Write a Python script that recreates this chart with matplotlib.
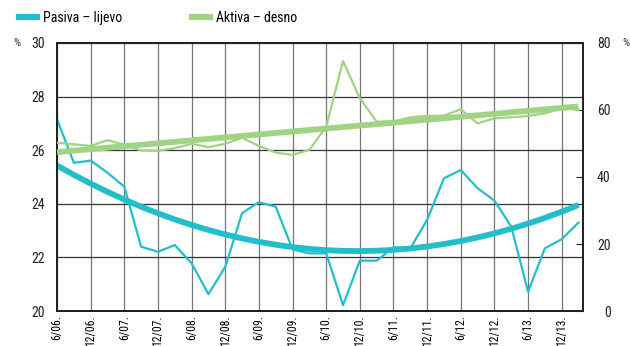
import numpy as np
import matplotlib
matplotlib.use('Agg')
import matplotlib.pyplot as plt
from matplotlib import font_manager
from matplotlib.lines import Line2D

# quarterly observations, 6/06 .. 3/14
pasiva = [27.15, 25.53, 25.61, 25.16, 24.64, 22.40, 22.21, 22.46, 21.78, 20.63,
          21.65, 23.65, 24.06, 23.89, 22.30, 22.15, 22.15, 20.22, 21.88, 21.88,
          22.38, 22.34, 23.40, 24.95, 25.26, 24.58, 24.12, 23.15, 20.72, 22.34,
          22.68, 23.30]
aktiva = [50.2, 49.75, 49.25, 51.0, 49.6, 47.9, 47.8, 48.6, 49.9, 48.9,
          49.9, 51.7, 49.25, 47.3, 46.6, 48.1, 55.0, 74.6, 63.5, 56.5,
          56.5, 57.8, 58.2, 58.3, 60.2, 56.0, 57.5, 57.8, 58.2, 59.0,
          60.5, 60.0]
tick_labels = ['6/06.', '12/06.', '6/07.', '12/07.', '6/08.', '12/08.', '6/09.', '12/09.',
               '6/10.', '12/10.', '6/11.', '12/11.', '6/12.', '12/12.', '6/13.', '12/13.']

cyan = '#22BFCB'
green = '#A0D383'

names = {f.name for f in font_manager.fontManager.ttflist}
family = 'Roboto'
for cand in ['Liberation Sans Narrow', 'Roboto Condensed', 'Open Sans Condensed', 'Noto Sans Condensed']:
    if cand in names:
        family = cand
        break
plt.rcParams['font.family'] = [family, 'DejaVu Sans']
plt.rcParams['font.size'] = 10

x = np.arange(len(pasiva))

# polynomial trendlines, like the spreadsheet ones
p_trend = np.polyval(np.polyfit(x, pasiva, 2), x)
a_trend = np.polyval(np.polyfit(x, aktiva, 1), x)

fig = plt.figure(figsize=(6.3, 3.46), dpi=100)
ax = fig.add_axes([0.0905, 0.101, 0.8345, 0.775])
ax2 = ax.twinx()

ax.plot(x, p_trend, color=cyan, lw=4.2, solid_capstyle='butt', zorder=3)
ax.plot(x, pasiva, color=cyan, lw=1.6, zorder=4)
ax2.plot(x, a_trend, color=green, lw=4.2, solid_capstyle='butt', zorder=3)
ax2.plot(x, aktiva, color=green, lw=1.6, zorder=4)

ax.set_xlim(0, 31.25)
ax.set_ylim(20, 30)
ax.set_yticks(np.arange(20, 31, 2))
ax2.set_ylim(0, 80)
ax2.set_yticks(np.arange(0, 81, 20))

ax.set_xticks(np.arange(0, 31, 2))
ax.set_xticklabels(tick_labels, rotation=90, va='top')
ax.tick_params(axis='x', length=0, pad=3, labelsize=8.5)
ax.tick_params(axis='y', length=0, pad=9, labelsize=10, colors='#222')

ax2.tick_params(axis='y', direction='in', length=5, width=0.8, pad=20, labelsize=10, colors='#222')
for lab in ax2.get_yticklabels():
    lab.set_horizontalalignment('right')

ax.grid(axis='x', color='#777777', lw=0.9)
ax.grid(axis='y', color='#333333', lw=0.9)
ax.set_axisbelow(True)

for a in (ax, ax2):
    for s in a.spines.values():
        s.set_linewidth(1.4)
        s.set_color('#222')

fig.text(0.021, 0.876, '%', fontsize=8, va='center', ha='left', color='#333')
fig.text(0.988, 0.876, '%', fontsize=8, va='center', ha='left', color='#333')

handles = [Line2D([], [], color=cyan, lw=4.5), Line2D([], [], color=green, lw=4.5)]
fig.legend(handles, ['Pasiva – lijevo', 'Aktiva – desno'], loc='upper left',
           bbox_to_anchor=(0.01, 1.005), ncol=2, frameon=False, handlelength=1.3,
           handletextpad=0.45, columnspacing=5.0, fontsize=10)

fig.savefig('out.png', dpi=100)
